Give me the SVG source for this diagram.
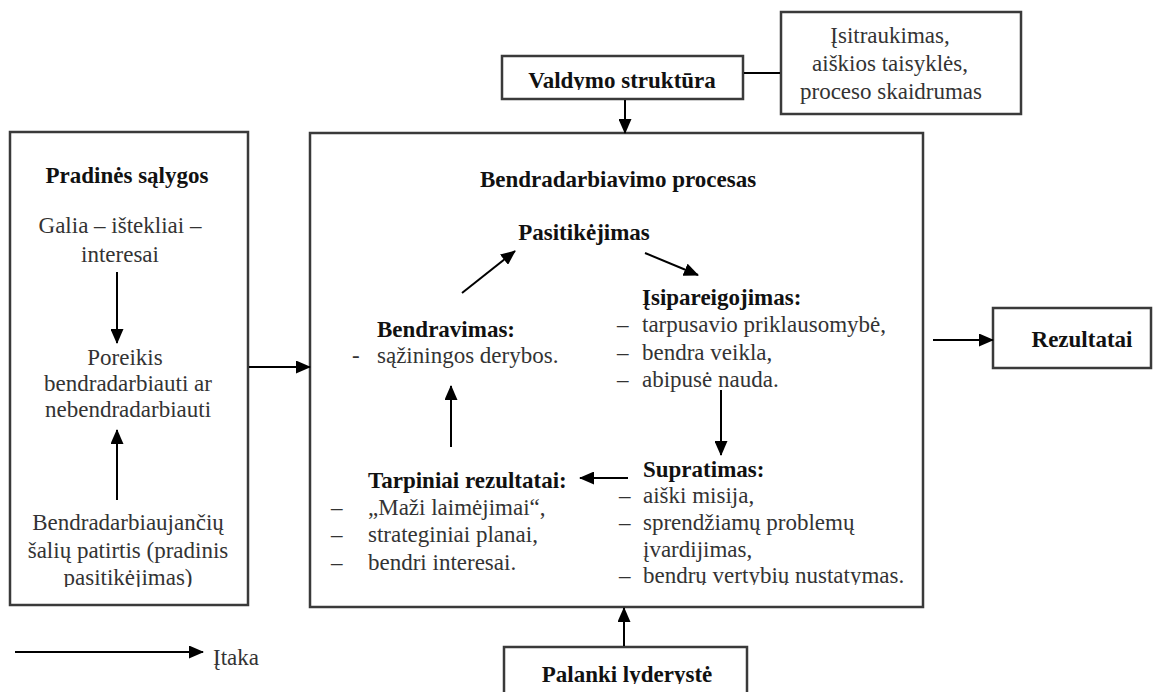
<svg xmlns="http://www.w3.org/2000/svg" width="1160" height="692" viewBox="0 0 1160 692">
<style>
.box{fill:#fff;stroke:#3a3a3a;stroke-width:2.5}
.t{font-family:"Liberation Serif","Times New Roman",serif;font-size:23px;fill:#333}
.b{font-weight:bold;fill:#111}
.c{text-anchor:middle}
.conn line{stroke:#000;stroke-width:2}
.conn .a{marker-end:url(#ah)}
</style>
<defs>
<marker id="ah" markerUnits="userSpaceOnUse" markerWidth="15" markerHeight="13" refX="14" refY="6.5" orient="auto">
<path d="M0,0 L15,6.5 L0,13 Z" fill="#000"/>
</marker>
<clipPath id="clipV"><rect x="500" y="50" width="250" height="40"/></clipPath>
<clipPath id="clipP"><rect x="500" y="650" width="250" height="34"/></clipPath>
<clipPath id="clipS"><rect x="630" y="560" width="290" height="25"/></clipPath>
<clipPath id="clipL"><rect x="20" y="565" width="220" height="22"/></clipPath>
</defs>
<rect width="1160" height="692" fill="#fff"/>

<g id="pradines">
<rect class="box" x="10" y="132" width="238" height="473"/>
<text class="t b c" x="127" y="183">Pradinės sąlygos</text>
<text class="t c" x="120" y="233">Galia – ištekliai –</text>
<text class="t c" x="120" y="262">interesai</text>
<text class="t c" x="125" y="365">Poreikis</text>
<text class="t c" x="128" y="391">bendradarbiauti ar</text>
<text class="t c" x="128" y="417">nebendradarbiauti</text>
<text class="t c" x="128" y="530">Bendradarbiaujančių</text>
<text class="t c" x="128" y="558">šalių patirtis (pradinis</text>
<text class="t c" x="128" y="585" clip-path="url(#clipL)">pasitikėjimas)</text>
</g>

<g id="procesas">
<rect class="box" x="310" y="133" width="613" height="474"/>
<text class="t b c" x="618" y="187">Bendradarbiavimo procesas</text>
</g>

<g id="pasitikejimas">
<text class="t b c" x="584" y="240">Pasitikėjimas</text>
</g>

<g id="bendravimas">
<text class="t b" x="377" y="337">Bendravimas:</text>
<text class="t" x="352" y="363">-</text>
<text class="t" x="377" y="363">sąžiningos derybos.</text>
</g>

<g id="isipareigojimas">
<text class="t b" x="642" y="305">Įsipareigojimas:</text>
<text class="t" x="617" y="332">–</text><text class="t" x="642" y="332">tarpusavio priklausomybė,</text>
<text class="t" x="617" y="360">–</text><text class="t" x="642" y="360">bendra veikla,</text>
<text class="t" x="617" y="387">–</text><text class="t" x="642" y="387">abipusė nauda.</text>
</g>

<g id="supratimas">
<text class="t b" x="643" y="477">Supratimas:</text>
<text class="t" x="619" y="503">–</text><text class="t" x="643" y="503">aiški misija,</text>
<text class="t" x="619" y="530">–</text><text class="t" x="643" y="530">sprendžiamų problemų</text>
<text class="t" x="643" y="557">įvardijimas,</text>
<text class="t" x="619" y="583">–</text><text class="t" x="643" y="583" clip-path="url(#clipS)">bendrų vertybių nustatymas.</text>
</g>

<g id="tarpiniai">
<text class="t b" x="368" y="488">Tarpiniai rezultatai:</text>
<text class="t" x="331" y="515">–</text><text class="t" x="368" y="515">„Maži laimėjimai“,</text>
<text class="t" x="331" y="542">–</text><text class="t" x="368" y="542">strateginiai planai,</text>
<text class="t" x="331" y="570">–</text><text class="t" x="368" y="570">bendri interesai.</text>
</g>

<g id="valdymo">
<rect class="box" x="502" y="56" width="241" height="43"/>
<text class="t b c" x="622" y="88" clip-path="url(#clipV)">Valdymo struktūra</text>
</g>

<g id="isitraukimas">
<rect class="box" x="781" y="12" width="240" height="102"/>
<text class="t c" x="890" y="43">Įsitraukimas,</text>
<text class="t c" x="890" y="71">aiškios taisyklės,</text>
<text class="t c" x="891" y="99">proceso skaidrumas</text>
</g>

<g id="rezultatai">
<rect class="box" x="993" y="308" width="158" height="60"/>
<text class="t b c" x="1082" y="347">Rezultatai</text>
</g>

<g id="palanki">
<rect class="box" x="504" y="647" width="243" height="60"/>
<text class="t b c" x="627" y="682" clip-path="url(#clipP)">Palanki lyderystė</text>
</g>

<g id="legend">
<text class="t" x="213" y="665">Įtaka</text>
</g>

<g id="conns" class="conn">
<line x1="744" y1="73" x2="780" y2="73"/>
<line class="a" x1="625" y1="100" x2="625" y2="133"/>
<line class="a" x1="624" y1="646" x2="624" y2="608"/>
<line class="a" x1="249" y1="367" x2="310" y2="367"/>
<line class="a" x1="933" y1="340" x2="993" y2="340"/>
<line class="a" x1="117" y1="272" x2="117" y2="343"/>
<line class="a" x1="117" y1="500" x2="117" y2="430"/>
<line class="a" x1="462" y1="293" x2="515" y2="251"/>
<line class="a" x1="645" y1="253" x2="698" y2="275"/>
<line class="a" x1="721" y1="390" x2="721" y2="455"/>
<line class="a" x1="628" y1="478" x2="580" y2="478"/>
<line class="a" x1="451" y1="447" x2="451" y2="386"/>
<line class="a" x1="15" y1="652" x2="203" y2="652"/>
</g>
</svg>
